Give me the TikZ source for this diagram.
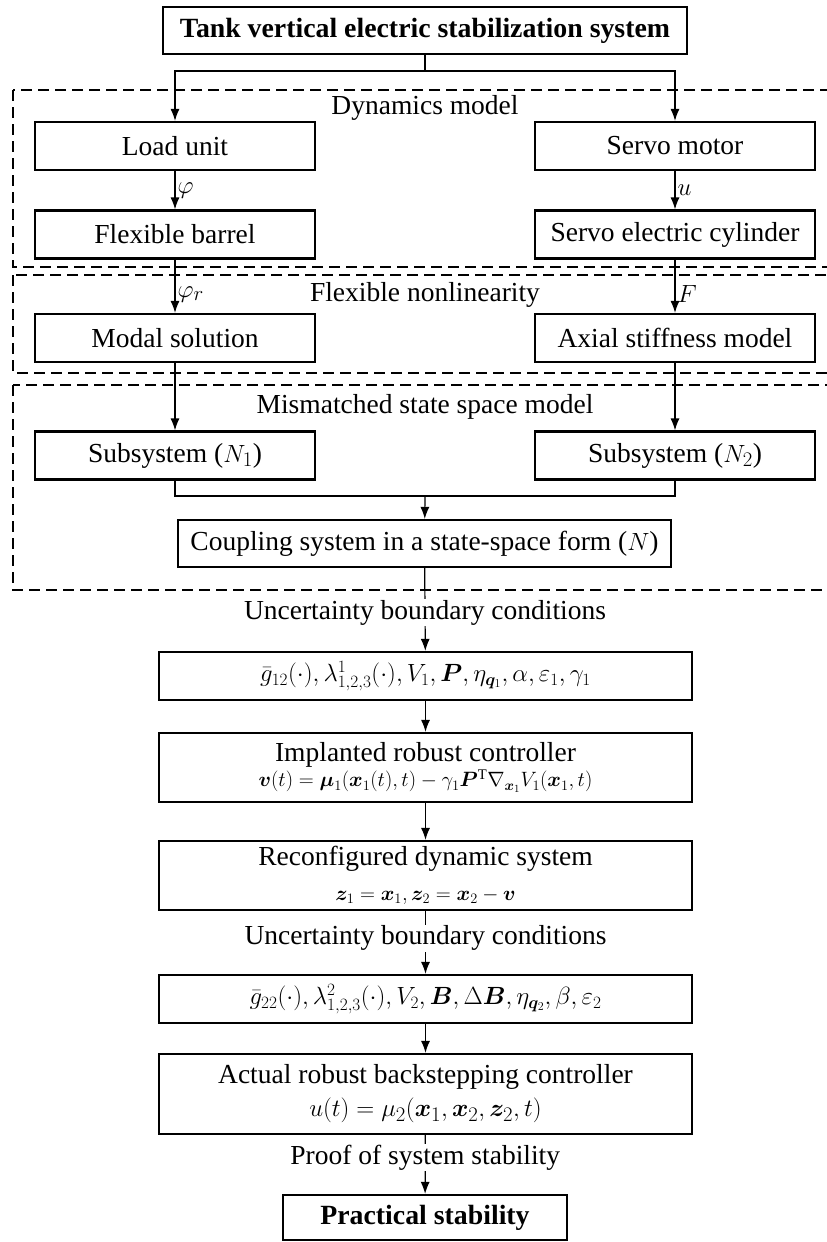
\documentclass[tikz,border=0pt]{standalone}
\usepackage{amsmath}
\usepackage{fontspec}
\setmainfont{Liberation Serif}
\usepackage{bm}
\usetikzlibrary{arrows.meta,positioning}

\begin{document}
\begin{tikzpicture}[x=1pt, y=-1pt,
  every node/.style={font=\fontsize{27.5}{30}\selectfont},
  box/.style={draw=black, line width=2.2pt, inner sep=0pt, minimum height=48pt},
  sidebox/.style={box, minimum width=280pt},
  widebox/.style={box, minimum width=533pt, align=center},
  region/.style={draw=black, line width=1.8pt, dash pattern=on 11pt off 6pt},
  link/.style={line width=1.2pt},
  arr/.style={link, -{Latex[length=12pt,width=9pt]}},
  tag/.style={fill=white, inner sep=1pt},
  sym/.style={right, inner sep=2pt}]
  \useasboundingbox (0,0) rectangle (827,1242);

  % dashed regions
  \draw[region] (13,90) rectangle (840,267);
  \draw[region] (13,275) rectangle (840,373);
  \draw[region] (13,385) rectangle (840,590);

  \node (tank) [box, minimum width=524pt, minimum height=47pt, font=\fontsize{27.8}{30}\selectfont\bfseries] at (425,30.5) {Tank vertical electric stabilization system};

  \node (dyn) at (425,108) {Dynamics model};
  \node (load) [sidebox] at (175,146) {Load unit};
  \node (motor) [sidebox] at (675,146) {Servo motor};
  \node (barrel) [sidebox] at (175,234.5) {Flexible barrel};
  \node (cylinder) [sidebox] at (675,234.5) {Servo electric cylinder};

  \node (flex) at (425,295) {Flexible nonlinearity};
  \node (modal) [sidebox] at (175,338) {Modal solution};
  \node (axial) [sidebox] at (675,338) {Axial stiffness model};

  \node (mism) at (425,407) {Mismatched state space model};
  \node (sub1) [sidebox] at (175,455.5) {Subsystem ($N_1$)};
  \node (sub2) [sidebox] at (675,455.5) {Subsystem ($N_2$)};
  \node (coupling) [box, minimum width=493pt, minimum height=47pt] at (424.5,543.5) {Coupling system in a state-space form ($N$)};

  \node (cond1) [widebox] at (425.5,676) {\fontsize{24}{26}\selectfont $\bar{g}_{12}(\cdot), \lambda^{1}_{1,2,3}(\cdot), V_1, \bm{P}, \eta_{\bm{q}_1}, \alpha, \varepsilon_1, \gamma_1$};
  \node (impl) [widebox, minimum height=69pt] at (425.5,767.5) {Implanted robust controller\\[-5pt]
    \fontsize{21}{23}\selectfont $\bm{v}(t)=\bm{\mu}_1(\bm{x}_1(t),t)-\gamma_1\bm{P}^{\mathrm{T}}\nabla_{\bm{x}_1}V_1(\bm{x}_1,t)$};
  \node (recon) [widebox, minimum height=69pt] at (425.5,875.5) {Reconfigured dynamic system\\[5pt]
    \fontsize{21}{23}\selectfont $\bm{z}_1=\bm{x}_1, \bm{z}_2=\bm{x}_2-\bm{v}$};
  \node (cond2) [widebox] at (425.5,999) {\fontsize{24}{26}\selectfont $\bar{g}_{22}(\cdot), \lambda^{2}_{1,2,3}(\cdot), V_2, \bm{B}, \Delta\bm{B}, \eta_{\bm{q}_2}, \beta, \varepsilon_2$};
  \node (actual) [widebox, minimum height=80pt] at (425.5,1094) {Actual robust backstepping controller\\[3pt]
    $u(t)=\mu_2(\bm{x}_1,\bm{x}_2,\bm{z}_2,t)$};
  \node (stable) [box, minimum width=284pt, minimum height=45pt, font=\fontsize{27.8}{30}\selectfont\bfseries] at (425,1217.5) {Practical stability};

  % connectors
  \coordinate (fork) at (425,71);
  \coordinate (merge) at (425,496);
  \draw[link] (tank) -- (fork);
  \draw[arr] (fork) -| (load);
  \draw[arr] (fork) -| (motor);
  \draw[arr] (load) -- node[sym] (phi) {$\varphi$} (barrel);
  \draw[arr] (motor) -- node[sym] (u) {$u$} (cylinder);
  \draw[arr] (barrel) -- node[sym, pos=.65] (phir) {$\varphi_r$} (modal);
  \draw[arr] (cylinder) -- node[sym, pos=.65] (force) {$F$} (axial);
  \draw[arr] (modal) -- (sub1);
  \draw[arr] (axial) -- (sub2);
  \draw[link] (sub1) |- (merge) -| (sub2);
  \draw[arr] (merge) -- (coupling);
  \draw[arr] (coupling) -- node[tag, pos=.54] (unc1) {Uncertainty boundary conditions} (cond1);
  \draw[arr] (cond1) -- (impl);
  \draw[arr] (impl) -- (recon);
  \draw[arr] (recon) -- node[tag, pos=.43] (unc2) {Uncertainty boundary conditions} (cond2);
  \draw[arr] (cond2) -- (actual);
  \draw[arr] (actual) -- node[tag, pos=.38] (proof) {Proof of system stability} (stable);
\end{tikzpicture}
\end{document}
